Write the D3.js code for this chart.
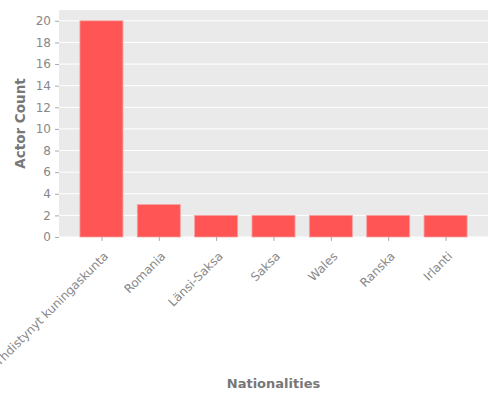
<!DOCTYPE html>
<html>
<head>
<meta charset="utf-8">
<script src="https://cdn.jsdelivr.net/npm/d3@7"></script>
<style>
  body { margin: 0; background: #fff; }
  text { font-family: "DejaVu Sans", sans-serif; }
</style>
</head>
<body>
<div id="chart"></div>
<script>
// Chart data
const nationalities = ["Yhdistynyt kuningaskunta", "Romania", "Länsi-Saksa", "Saksa", "Wales", "Ranska", "Irlanti"];
const actorCounts = [20, 3, 2, 2, 2, 2, 2];
const yTicks = [0, 2, 4, 6, 8, 10, 12, 14, 16, 18, 20];

// Canvas size
const margin = { top: 10, right: 12, bottom: 163, left: 59 },
    width = 500 - margin.left - margin.right,
    height = 400 - margin.top - margin.bottom;

const svg = d3.select("#chart")
    .append("svg")
    .attr("width", 500)
    .attr("height", 400)
    .append("g")
    .attr("transform", `translate(${margin.left},${margin.top})`);

// Scales (category positions like matplotlib: -0.74 .. 6.74)
const xScale = d3.scaleLinear().domain([-0.74, nationalities.length - 1 + 0.74]).range([0, width]);
const yScale = d3.scaleLinear().domain([0, 21]).range([height, 0]);
const barW = 0.75;

// Panel background
svg.append("rect")
    .attr("width", width)
    .attr("height", height)
    .attr("fill", "#EAEAEA");

// Grid lines
svg.selectAll(".grid")
    .data(yTicks)
    .enter()
    .append("line")
    .attr("x1", 0)
    .attr("x2", width)
    .attr("y1", d => yScale(d))
    .attr("y2", d => yScale(d))
    .attr("stroke", "#fff")
    .attr("stroke-width", 1);

// Bars
svg.selectAll(".bar")
    .data(actorCounts)
    .enter()
    .append("rect")
    .attr("x", (d, i) => xScale(i - barW / 2))
    .attr("y", d => yScale(d))
    .attr("width", (d, i) => xScale(i + barW / 2) - xScale(i - barW / 2))
    .attr("height", d => yScale(0) - yScale(d))
    .attr("fill", "#FF5555")
    .attr("stroke", "#F5A3A3")
    .attr("stroke-width", 0.8);

// Y axis
const yAxis = svg.append("g")
    .call(d3.axisLeft(yScale).tickValues(yTicks).tickSize(4).tickPadding(4));
yAxis.select(".domain").remove();
yAxis.selectAll("line").attr("stroke", "#aaa");
yAxis.selectAll("text")
    .attr("fill", "#888")
    .style("font-size", "12px");

// X axis
const xAxis = svg.append("g")
    .attr("transform", `translate(0,${height})`)
    .call(d3.axisBottom(xScale)
        .tickValues(d3.range(nationalities.length))
        .tickFormat(i => nationalities[i])
        .tickSize(4));
xAxis.select(".domain").remove();
xAxis.selectAll("line").attr("stroke", "#aaa");
xAxis.selectAll("text")
    .attr("fill", "#888")
    .style("font-size", "12px")
    .attr("text-anchor", "end")
    .attr("x", 0)
    .attr("y", 0)
    .attr("dy", "0.35em")
    .attr("transform", "translate(4,17) rotate(-45)");

// Axis titles
svg.append("text")
    .attr("x", width / 2)
    .attr("y", height + 151)
    .attr("text-anchor", "middle")
    .attr("fill", "#777")
    .style("font-size", "13px")
    .style("font-weight", "bold")
    .text("Nationalities");

svg.append("text")
    .attr("transform", `translate(-34,${height / 2}) rotate(-90)`)
    .attr("text-anchor", "middle")
    .attr("fill", "#777")
    .style("font-size", "13.5px")
    .style("font-weight", "bold")
    .text("Actor Count");
</script>
</body>
</html>
